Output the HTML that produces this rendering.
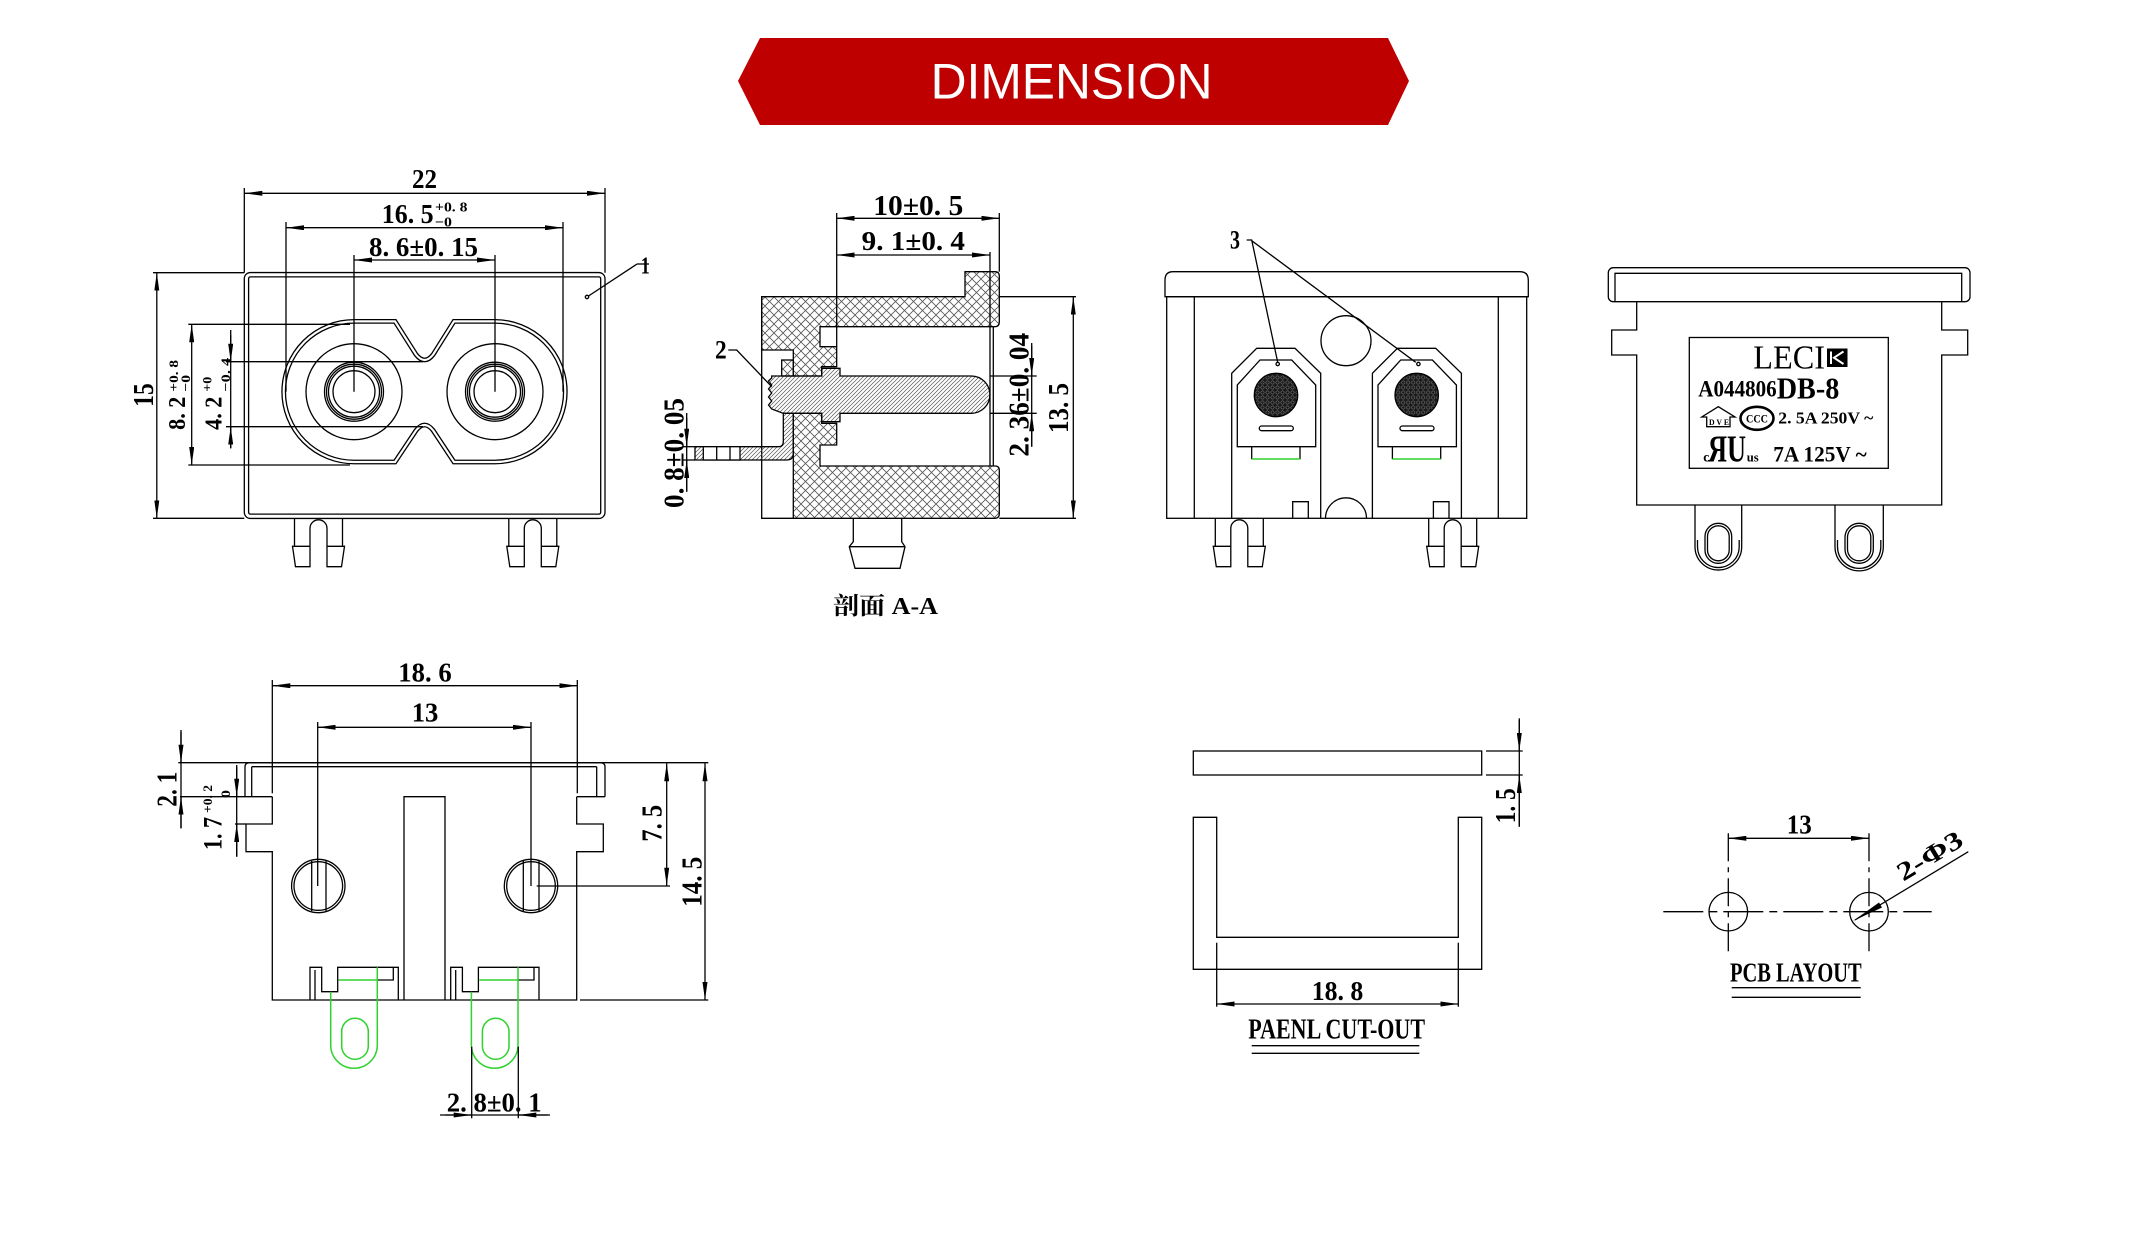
<!DOCTYPE html>
<html><head><meta charset="utf-8"><style>
html,body{margin:0;padding:0;background:#fff;}
svg{display:block;}
text{font-family:"Liberation Serif","Noto Serif CJK SC",serif;font-weight:bold;fill:#000;stroke:none;}
</style></head><body>
<svg width="2148" height="1257" viewBox="0 0 2148 1257" xmlns="http://www.w3.org/2000/svg">
<defs>
<marker id="a" viewBox="0 0 18 5" refX="18" refY="2.5" markerWidth="18" markerHeight="5" markerUnits="userSpaceOnUse" orient="auto-start-reverse"><path d="M0,0 L18,2.5 L0,5 Z" fill="#000" stroke="none"/></marker>
<pattern id="xh" width="9" height="9" patternUnits="userSpaceOnUse"><path d="M0,0 L9,9 M9,0 L0,9" stroke="#555" stroke-width="0.8" fill="none"/></pattern>
<pattern id="dh" width="4" height="4" patternUnits="userSpaceOnUse"><path d="M-1,1 L1,-1 M0,4 L4,0 M3,5 L5,3" stroke="#555" stroke-width="0.7" fill="none"/></pattern>
<pattern id="dt" width="5" height="5" patternUnits="userSpaceOnUse"><rect width="5" height="5" fill="#1a1a1a"/><circle cx="2.5" cy="2.5" r="1.7" fill="none" stroke="#888" stroke-width="0.5"/></pattern>
<g id="pin" fill="none" stroke="#000" stroke-width="1.3">
<path d="M2,0 V28 H0 L3,48.4 H17.5 V10 A8.5,8.5 0 0 1 34.5,10 V48.4 H49 L52,28 H50 V0"/>
<path d="M2,28 H17.5 M34.5,28 H50"/>
</g>
</defs>

<!-- Banner -->
<polygon points="738,81 760,38 1388,38 1409,81 1388,125 760,125" fill="#BE0000"/>
<text x="930.6" y="98.3" textLength="282" lengthAdjust="spacingAndGlyphs" style="font-family:'Liberation Sans',sans-serif;font-weight:normal;font-size:50px;fill:#fff">DIMENSION</text>

<!-- ============ FRONT VIEW ============ -->
<g fill="none" stroke="#000" stroke-width="1.3">
<rect x="246.45" y="274.7" width="356.4" height="241.6" rx="4" stroke-width="5.6"/>
<rect x="246.45" y="274.7" width="356.4" height="241.6" rx="4" stroke="#fff" stroke-width="3"/>
<path d="M354,321.4 H395 L416,354.5 Q424.6,365.5 433.2,354.5 L454,321.4 H495 A70.3,70.3 0 0 1 495,462 H454 L433.2,430.5 Q424.6,419.5 416,430.5 L395,462 H354 A70.3,70.3 0 0 1 354,321.4 Z" stroke-width="4.8"/>
<path d="M354,321.4 H395 L416,354.5 Q424.6,365.5 433.2,354.5 L454,321.4 H495 A70.3,70.3 0 0 1 495,462 H454 L433.2,430.5 Q424.6,419.5 416,430.5 L395,462 H354 A70.3,70.3 0 0 1 354,321.4 Z" stroke="#fff" stroke-width="2.2"/>
<circle cx="354" cy="391.7" r="48"/><circle cx="495" cy="391.7" r="48"/>
<circle cx="354" cy="391.7" r="29.5"/><circle cx="354" cy="391.7" r="27.5"/><circle cx="354" cy="391.7" r="25.5"/><circle cx="354" cy="391.7" r="21"/>
<circle cx="495" cy="391.7" r="29.5"/><circle cx="495" cy="391.7" r="27.5"/><circle cx="495" cy="391.7" r="25.5"/><circle cx="495" cy="391.7" r="21"/>
<!-- dims -->
<line x1="244.3" y1="188" x2="244.3" y2="272.7"/><line x1="605" y1="188" x2="605" y2="272.7"/>
<line x1="244.3" y1="193.3" x2="605" y2="193.3" marker-start="url(#a)" marker-end="url(#a)"/>
<line x1="286" y1="222" x2="286" y2="391.7"/><line x1="563" y1="222" x2="563" y2="391.7"/>
<line x1="286" y1="227.7" x2="563" y2="227.7" marker-start="url(#a)" marker-end="url(#a)"/>
<line x1="354" y1="255" x2="354" y2="391.7"/><line x1="495" y1="255" x2="495" y2="391.7"/>
<line x1="354" y1="260" x2="495" y2="260" marker-start="url(#a)" marker-end="url(#a)"/>
<line x1="153" y1="272.7" x2="244.3" y2="272.7"/><line x1="153" y1="518.3" x2="244.3" y2="518.3"/>
<line x1="156.8" y1="272.7" x2="156.8" y2="518.3" marker-start="url(#a)" marker-end="url(#a)"/>
<line x1="188.3" y1="324.3" x2="350" y2="324.3"/><line x1="188.3" y1="465" x2="350" y2="465"/>
<line x1="191.7" y1="324.3" x2="191.7" y2="465" marker-start="url(#a)" marker-end="url(#a)"/>
<line x1="226" y1="361.7" x2="423" y2="361.7"/><line x1="226" y1="426.7" x2="423" y2="426.7"/>
<line x1="230.7" y1="330" x2="230.7" y2="448.3"/>
<line x1="230.7" y1="335" x2="230.7" y2="361.7" marker-end="url(#a)"/>
<line x1="230.7" y1="448.3" x2="230.7" y2="426.7" marker-end="url(#a)"/>
<line x1="649" y1="264" x2="637" y2="264"/><line x1="637" y1="264" x2="588.5" y2="296"/>
<circle cx="587" cy="297" r="1.7"/>
</g>
<use href="#pin" x="292.5" y="518.3"/>
<use href="#pin" x="506.8" y="518.3"/>
<text x="412" y="188" font-size="27" textLength="25" lengthAdjust="spacingAndGlyphs">22</text>
<text x="381.8" y="223" font-size="27" textLength="51.8" lengthAdjust="spacingAndGlyphs">16. 5</text>
<text x="435" y="211.7" font-size="14" textLength="32.5" lengthAdjust="spacingAndGlyphs">+0. 8</text>
<text x="435" y="226.7" font-size="14" textLength="17" lengthAdjust="spacingAndGlyphs">−0</text>
<text x="369" y="256" font-size="27" textLength="109" lengthAdjust="spacingAndGlyphs">8. 6±0. 15</text>
<text x="640.7" y="273.3" font-size="24" textLength="9" lengthAdjust="spacingAndGlyphs">1</text>
<text transform="translate(153.2,395) rotate(-90)" x="-11.7" y="0" font-size="28" textLength="23.4" lengthAdjust="spacingAndGlyphs">15</text>
<text transform="translate(185,413.3) rotate(-90)" x="-16.6" y="0" font-size="24" textLength="33.3" lengthAdjust="spacingAndGlyphs">8. 2</text>
<text transform="translate(178,375.8) rotate(-90)" x="-15.8" y="0" font-size="13" textLength="31.7" lengthAdjust="spacingAndGlyphs">+0. 8</text>
<text transform="translate(190,383.3) rotate(-90)" x="-8.3" y="0" font-size="13" textLength="16.7" lengthAdjust="spacingAndGlyphs">−0</text>
<text transform="translate(221.7,413.3) rotate(-90)" x="-16.6" y="0" font-size="24" textLength="33.3" lengthAdjust="spacingAndGlyphs">4. 2</text>
<text transform="translate(211.7,384.2) rotate(-90)" x="-7.5" y="0" font-size="13" textLength="15" lengthAdjust="spacingAndGlyphs">+0</text>
<text transform="translate(230,374.8) rotate(-90)" x="-16.8" y="0" font-size="13" textLength="33.7" lengthAdjust="spacingAndGlyphs">−0. 4</text>

<!-- ============ SECTION VIEW ============ -->
<g fill="none" stroke="#000" stroke-width="1.3">
<path d="M761.7,296.7 H965 V271.7 H995 Q999.3,271.7 999.3,276 V322 Q999.3,326.7 995,326.7 H820 V346.7 H836.7 V366.7 H821.7 V376 H793.3 V350 H761.7 Z" fill="url(#xh)"/>
<path d="M793.3,413.3 H821.7 V423.3 H836.7 V445 H820 V466 H995 Q999.3,466 999.3,470 V514 Q999.3,518.3 995,518.3 H793.3 Z" fill="url(#xh)"/>
<rect x="781.7" y="360" width="11.6" height="16" fill="url(#xh)"/>
<path d="M761.7,296.7 V518.3 H793.3"/>
<path d="M771.7,376 H821.7 V368.3 H840 V376 H971.3 A18.65,18.65 0 0 1 971.3,413.3 H840 V421.7 H821.7 V413.3 H783.3 L771.7,409 L768.5,405 L771.7,401 L768.5,397 L771.7,393 L768.5,389 L771.7,385 L768.5,381 L771.7,378 Z" fill="url(#dh)"/>
<path d="M783.3,413.3 H793.3 V453.3 Q793.3,460 786.7,460 H695 V446.7 H778.3 Q783.3,446.7 783.3,441.7 Z" fill="url(#dh)"/>
<rect x="703.3" y="446.7" width="36.7" height="13.3" fill="#fff"/>
<line x1="716.7" y1="446.7" x2="716.7" y2="460"/><line x1="730" y1="446.7" x2="730" y2="460"/>
<line x1="990" y1="252" x2="990" y2="466"/><line x1="993.3" y1="326.7" x2="993.3" y2="466"/>
<path d="M853.3,518.3 V541.7 L849.3,546.7 L855,568.3 H900 L905,546.7 L901.7,541.7 V518.3 M849.3,546.7 H905"/>
<!-- dims -->
<line x1="836.7" y1="213" x2="836.7" y2="346.7"/><line x1="999.3" y1="213" x2="999.3" y2="271.7"/>
<line x1="836.7" y1="218.3" x2="999.3" y2="218.3" marker-start="url(#a)" marker-end="url(#a)"/>
<line x1="836.7" y1="255" x2="990" y2="255" marker-start="url(#a)" marker-end="url(#a)"/>
<line x1="999.3" y1="296.7" x2="1076" y2="296.7"/><line x1="999.3" y1="518.3" x2="1076" y2="518.3"/>
<line x1="1073.3" y1="296.7" x2="1073.3" y2="518.3" marker-start="url(#a)" marker-end="url(#a)"/>
<line x1="990" y1="376" x2="1036.7" y2="376"/><line x1="990" y1="413.3" x2="1036.7" y2="413.3"/>
<line x1="1031.7" y1="343" x2="1031.7" y2="446.7"/>
<line x1="1031.7" y1="346" x2="1031.7" y2="376" marker-end="url(#a)"/>
<line x1="1031.7" y1="446.7" x2="1031.7" y2="413.3" marker-end="url(#a)"/>
<line x1="683" y1="446.7" x2="695" y2="446.7"/><line x1="683" y1="460" x2="695" y2="460"/>
<line x1="686.7" y1="413" x2="686.7" y2="491.7"/>
<line x1="686.7" y1="418" x2="686.7" y2="446.7" marker-end="url(#a)"/>
<line x1="686.7" y1="491.7" x2="686.7" y2="460" marker-end="url(#a)"/>
<path d="M728.3,350 H736.7 L771.7,386.7"/>
</g>
<text x="873.3" y="215" font-size="28" textLength="90" lengthAdjust="spacingAndGlyphs">10±0. 5</text>
<text x="861.7" y="250" font-size="27" textLength="103.3" lengthAdjust="spacingAndGlyphs">9. 1±0. 4</text>
<text x="715" y="358.3" font-size="26" textLength="11.7" lengthAdjust="spacingAndGlyphs">2</text>
<text transform="translate(683.3,453) rotate(-90)" x="-55" y="0" font-size="28" textLength="110" lengthAdjust="spacingAndGlyphs">0. 8±0. 05</text>
<text transform="translate(1028.3,394.8) rotate(-90)" x="-61.8" y="0" font-size="28" textLength="123.7" lengthAdjust="spacingAndGlyphs">2. 36±0. 04</text>
<text transform="translate(1068,408) rotate(-90)" x="-25" y="0" font-size="28" textLength="50" lengthAdjust="spacingAndGlyphs">13. 5</text>
<text x="833" y="614" font-size="24" textLength="105" lengthAdjust="spacingAndGlyphs">剖面 A-A</text>

<!-- ============ VIEW 3 ============ -->
<g fill="none" stroke="#000" stroke-width="1.3">
<path d="M1165,296.7 V280 Q1165,271.7 1173,271.7 H1520 Q1528.3,271.7 1528.3,280 V296.7 Z"/>
<rect x="1166.7" y="296.7" width="360" height="221.6"/>
<line x1="1194.3" y1="296.7" x2="1194.3" y2="518.3"/><line x1="1498.3" y1="296.7" x2="1498.3" y2="518.3"/>
<circle cx="1346" cy="340.7" r="25"/>
<path d="M1325.5,518.3 A20.5,20.5 0 0 1 1366.5,518.3"/>
<g id="sock">
<path d="M1231.7,518.3 V373.3 L1256.7,348.3 H1295 L1320.7,373.3 V518.3"/>
<path d="M1237.3,446.7 V385 L1260,360 H1291.7 L1315.7,385 V446.7 Z"/>
<circle cx="1276" cy="395" r="21.7" fill="url(#dt)"/>
<rect x="1259.3" y="426" width="34" height="4.7" rx="2.3"/>
<path d="M1251.7,446.7 V459.3 M1300,446.7 V459.3"/>
<line x1="1251.7" y1="459" x2="1300" y2="459" stroke="#2fd22f" stroke-width="1.6"/>
<circle cx="1277.7" cy="364" r="1.7"/>
<path d="M1292.7,518.3 V501.7 H1308.3 V518.3"/>
</g>
<use href="#sock" x="140.7" y="0"/>
<path d="M1246.7,240 H1251.7 L1277.7,362.3 M1251.7,240.7 L1415.7,362.3"/>
</g>
<use href="#pin" x="1213.3" y="518.3"/>
<use href="#pin" x="1426.7" y="518.3"/>
<text x="1230" y="248.3" font-size="26" textLength="10" lengthAdjust="spacingAndGlyphs">3</text>

<!-- ============ VIEW 4 ============ -->
<g fill="none" stroke="#000" stroke-width="1.3">
<rect x="1608.3" y="267.7" width="361.7" height="34" rx="5"/>
<path d="M1615,301.7 V273.3 H1961.7 V301.7"/>
<path d="M1636.7,301.7 V330 H1611.7 V355 H1636.7 V505 H1941.7 V355 H1967.7 V330 H1941.7 V301.7"/>
<rect x="1689.3" y="337.5" width="199" height="130.8"/>
<path d="M1695,505 V546.7 A23.35,23.35 0 0 0 1741.7,546.7 V505"/>
<path d="M1697.5,540 V546.7 A20.85,20.85 0 0 0 1739.2,546.7 V540"/>
<rect x="1705" y="523.3" width="26.7" height="40" rx="13.3"/>
<rect x="1707.5" y="525.8" width="21.7" height="35" rx="10.8"/>
<path d="M1835,505 V546.7 A24.15,24.15 0 0 0 1883.3,546.7 V505"/>
<path d="M1837.5,540 V546.7 A21.65,21.65 0 0 0 1880.8,546.7 V540"/>
<rect x="1845" y="523.3" width="28.3" height="40" rx="14"/>
<rect x="1847.5" y="525.8" width="23.3" height="35" rx="11.5"/>
<path d="M1701.7,417 L1718.3,406.7 L1735,417 H1730 V426.7 H1706.7 V417 Z"/>
<ellipse cx="1757" cy="418.3" rx="16.5" ry="11.5" stroke-width="2.6"/>
</g>
<rect x="1827" y="348.5" width="20.5" height="18.5" fill="#000"/>
<path d="M1831,351.5 V364 M1843.5,351.5 L1834,357.7 L1843.5,364" stroke="#fff" stroke-width="2" fill="none"/>
<text x="1753.3" y="368.3" font-size="34" textLength="71.7" lengthAdjust="spacingAndGlyphs" style="font-weight:normal">LECI</text>
<text x="1698.3" y="396.7" font-size="23" textLength="78.4" lengthAdjust="spacingAndGlyphs">A044806</text>
<text x="1776.7" y="398.3" font-size="31" textLength="62.6" lengthAdjust="spacingAndGlyphs">DB-8</text>
<text x="1709" y="425" font-size="8" textLength="20" lengthAdjust="spacingAndGlyphs">D V E</text>
<text x="1746" y="422.5" font-size="12" textLength="22" lengthAdjust="spacingAndGlyphs">CCC</text>
<text x="1778.3" y="423.3" font-size="17" textLength="95" lengthAdjust="spacingAndGlyphs">2. 5A 250V ~</text>
<text x="1703.3" y="461.7" font-size="14" textLength="6" lengthAdjust="spacingAndGlyphs">c</text>
<text x="1708" y="461.7" font-size="38" textLength="38" lengthAdjust="spacingAndGlyphs">ЯU</text>
<text x="1746.7" y="461.7" font-size="13" textLength="12" lengthAdjust="spacingAndGlyphs">us</text>
<text x="1773.3" y="461.7" font-size="22" textLength="93.4" lengthAdjust="spacingAndGlyphs">7A 125V ~</text>

<!-- ============ BOTTOM-LEFT VIEW ============ -->
<g fill="none" stroke="#000" stroke-width="1.3">
<line x1="178.3" y1="762.7" x2="708.3" y2="762.7"/>
<path d="M245,796.7 V767 Q245,762.7 249.5,762.7 H600.5 Q605,762.7 605,767 V796.7"/>
<line x1="251.7" y1="766.7" x2="596.7" y2="766.7"/>
<line x1="251.7" y1="766.7" x2="251.7" y2="796.7"/><line x1="596.7" y1="766.7" x2="596.7" y2="796.7"/>
<path d="M245,796.7 H272.3 M576.7,796.7 H605"/>
<path d="M272.3,796.7 V824 H246 V851.7 H272.3 V1000 H576.7 V851.7 H603.3 V824 H576.7 V796.7"/>
<path d="M404,1000 V796.7 H445 V1000"/>
<circle cx="318.3" cy="886" r="26.7"/><circle cx="318.3" cy="886" r="24.3"/>
<line x1="311.7" y1="861" x2="311.7" y2="911"/><line x1="326" y1="861" x2="326" y2="911"/>
<circle cx="531" cy="886" r="26.7"/><circle cx="531" cy="886" r="24.3"/>
<line x1="523.3" y1="861" x2="523.3" y2="911"/><line x1="539" y1="861" x2="539" y2="911"/>
<g id="tab">
<path d="M310,1000 V967.3 H321.7 V991.7 H337.7 V967.3 H398.3 V1000"/>
<path d="M315,970 V1000 M377.3,980 H393.3 V967.3"/>
<g stroke="#2fd22f" stroke-width="1.5">
<path d="M330.7,991.7 V1045 A23.3,23.3 0 0 0 377.3,1045 V967.3"/>
<line x1="338.5" y1="980" x2="377.3" y2="980"/>
<rect x="341.7" y="1018.3" width="26.6" height="41" rx="13.3"/>
</g>
</g>
<use href="#tab" x="140.7" y="0"/>
<!-- dims -->
<line x1="272.3" y1="680" x2="272.3" y2="793.3"/><line x1="577.3" y1="680" x2="577.3" y2="793.3"/>
<line x1="272.3" y1="685.7" x2="577.3" y2="685.7" marker-start="url(#a)" marker-end="url(#a)"/>
<line x1="317.7" y1="722" x2="317.7" y2="886"/><line x1="531" y1="722" x2="531" y2="886"/>
<line x1="317.7" y1="727.3" x2="531" y2="727.3" marker-start="url(#a)" marker-end="url(#a)"/>
<line x1="536.7" y1="886" x2="670" y2="886"/>
<line x1="666.7" y1="763.3" x2="666.7" y2="885.7" marker-start="url(#a)" marker-end="url(#a)"/>
<line x1="580" y1="1000" x2="708.3" y2="1000"/>
<line x1="705" y1="763.3" x2="705" y2="1000" marker-start="url(#a)" marker-end="url(#a)"/>
<line x1="180" y1="796.7" x2="245" y2="796.7"/>
<line x1="181" y1="730" x2="181" y2="828.3"/>
<line x1="181" y1="732" x2="181" y2="762.7" marker-end="url(#a)"/>
<line x1="181" y1="828.3" x2="181" y2="796.7" marker-end="url(#a)"/>
<line x1="235" y1="824" x2="246" y2="824"/>
<line x1="236.7" y1="765" x2="236.7" y2="856.7"/>
<line x1="236.7" y1="767" x2="236.7" y2="796.7" marker-end="url(#a)"/>
<line x1="236.7" y1="856.7" x2="236.7" y2="824" marker-end="url(#a)"/>
<line x1="471.7" y1="1046.7" x2="471.7" y2="1118.3"/><line x1="518.3" y1="1046.7" x2="518.3" y2="1118.3"/>
<line x1="440" y1="1115" x2="550" y2="1115"/>
<line x1="445" y1="1115" x2="471.7" y2="1115" marker-end="url(#a)"/>
<line x1="548" y1="1115" x2="518.3" y2="1115" marker-end="url(#a)"/>
</g>
<text x="398.3" y="681.7" font-size="27" textLength="53.4" lengthAdjust="spacingAndGlyphs">18. 6</text>
<text x="411.7" y="721.7" font-size="27" textLength="26.6" lengthAdjust="spacingAndGlyphs">13</text>
<text x="446.7" y="1111.7" font-size="27" textLength="95" lengthAdjust="spacingAndGlyphs">2. 8±0. 1</text>
<text transform="translate(176.7,789.2) rotate(-90)" x="-17.5" y="0" font-size="28" textLength="35" lengthAdjust="spacingAndGlyphs">2. 1</text>
<text transform="translate(221.7,833.5) rotate(-90)" x="-16.5" y="0" font-size="26" textLength="33" lengthAdjust="spacingAndGlyphs">1. 7</text>
<text transform="translate(212,799) rotate(-90)" x="-14" y="0" font-size="13" textLength="28" lengthAdjust="spacingAndGlyphs">+0. 2</text>
<text transform="translate(230,794) rotate(-90)" x="-4" y="0" font-size="13" textLength="8" lengthAdjust="spacingAndGlyphs">0</text>
<text transform="translate(661.7,823.3) rotate(-90)" x="-18.3" y="0" font-size="28" textLength="36.7" lengthAdjust="spacingAndGlyphs">7. 5</text>
<text transform="translate(701.7,881.7) rotate(-90)" x="-25" y="0" font-size="28" textLength="50" lengthAdjust="spacingAndGlyphs">14. 5</text>

<!-- ============ PANEL CUT-OUT ============ -->
<g fill="none" stroke="#000" stroke-width="1.3">
<rect x="1193.3" y="751" width="288.4" height="24"/>
<path d="M1193.3,817.3 V969.3 H1481.7 V817.3 H1458.3 V937.3 H1216.7 V817.3 Z"/>
<line x1="1216.7" y1="942.7" x2="1216.7" y2="1006.7"/><line x1="1458.3" y1="942.7" x2="1458.3" y2="1006.7"/>
<line x1="1216.7" y1="1004" x2="1458.3" y2="1004" marker-start="url(#a)" marker-end="url(#a)"/>
<line x1="1486" y1="751" x2="1522.7" y2="751"/><line x1="1486" y1="775" x2="1522.7" y2="775"/>
<line x1="1519.3" y1="718.3" x2="1519.3" y2="826.7"/>
<line x1="1519.3" y1="720" x2="1519.3" y2="751" marker-end="url(#a)"/>
<line x1="1519.3" y1="826.7" x2="1519.3" y2="775" marker-end="url(#a)"/>
<line x1="1251.7" y1="1045.7" x2="1419.3" y2="1045.7"/>
<line x1="1251.7" y1="1053.3" x2="1419.3" y2="1053.3"/>
</g>
<text x="1311.7" y="1000" font-size="27" textLength="51.6" lengthAdjust="spacingAndGlyphs">18. 8</text>
<text x="1248.3" y="1038.3" font-size="28" textLength="176.7" lengthAdjust="spacingAndGlyphs">PAENL CUT-OUT</text>
<text transform="translate(1515,805.8) rotate(-90)" x="-17.5" y="0" font-size="28" textLength="35" lengthAdjust="spacingAndGlyphs">1. 5</text>

<!-- ============ PCB LAYOUT ============ -->
<g fill="none" stroke="#000" stroke-width="1.3">
<line x1="1728.3" y1="833.3" x2="1728.3" y2="956.7" stroke-dasharray="28 6 5 6"/>
<line x1="1869" y1="833.3" x2="1869" y2="956.7" stroke-dasharray="28 6 5 6"/>
<line x1="1728.3" y1="838.3" x2="1869" y2="838.3" marker-start="url(#a)" marker-end="url(#a)"/>
<line x1="1663.3" y1="911.7" x2="1931.7" y2="911.7" stroke-dasharray="40 6 8 6"/>
<circle cx="1728.3" cy="911.7" r="19.3"/>
<circle cx="1869" cy="911.7" r="19.3"/>
<line x1="1855" y1="920" x2="1968.3" y2="851.7"/>
<line x1="1731.7" y1="987.7" x2="1860.7" y2="987.7"/>
<line x1="1731.7" y1="997.3" x2="1860.7" y2="997.3"/>
</g>
<polygon points="1853,921 1879,902.5 1882,907.5" fill="#000"/>
<text x="1786.7" y="833.3" font-size="27" textLength="25" lengthAdjust="spacingAndGlyphs">13</text>
<text transform="translate(1903.3,881.7) rotate(-31.1)" x="0" y="0" font-size="26" textLength="72" lengthAdjust="spacingAndGlyphs">2-Φ3</text>
<text x="1730" y="981.7" font-size="27" textLength="131.7" lengthAdjust="spacingAndGlyphs">PCB LAYOUT</text>
</svg>
</body></html>
